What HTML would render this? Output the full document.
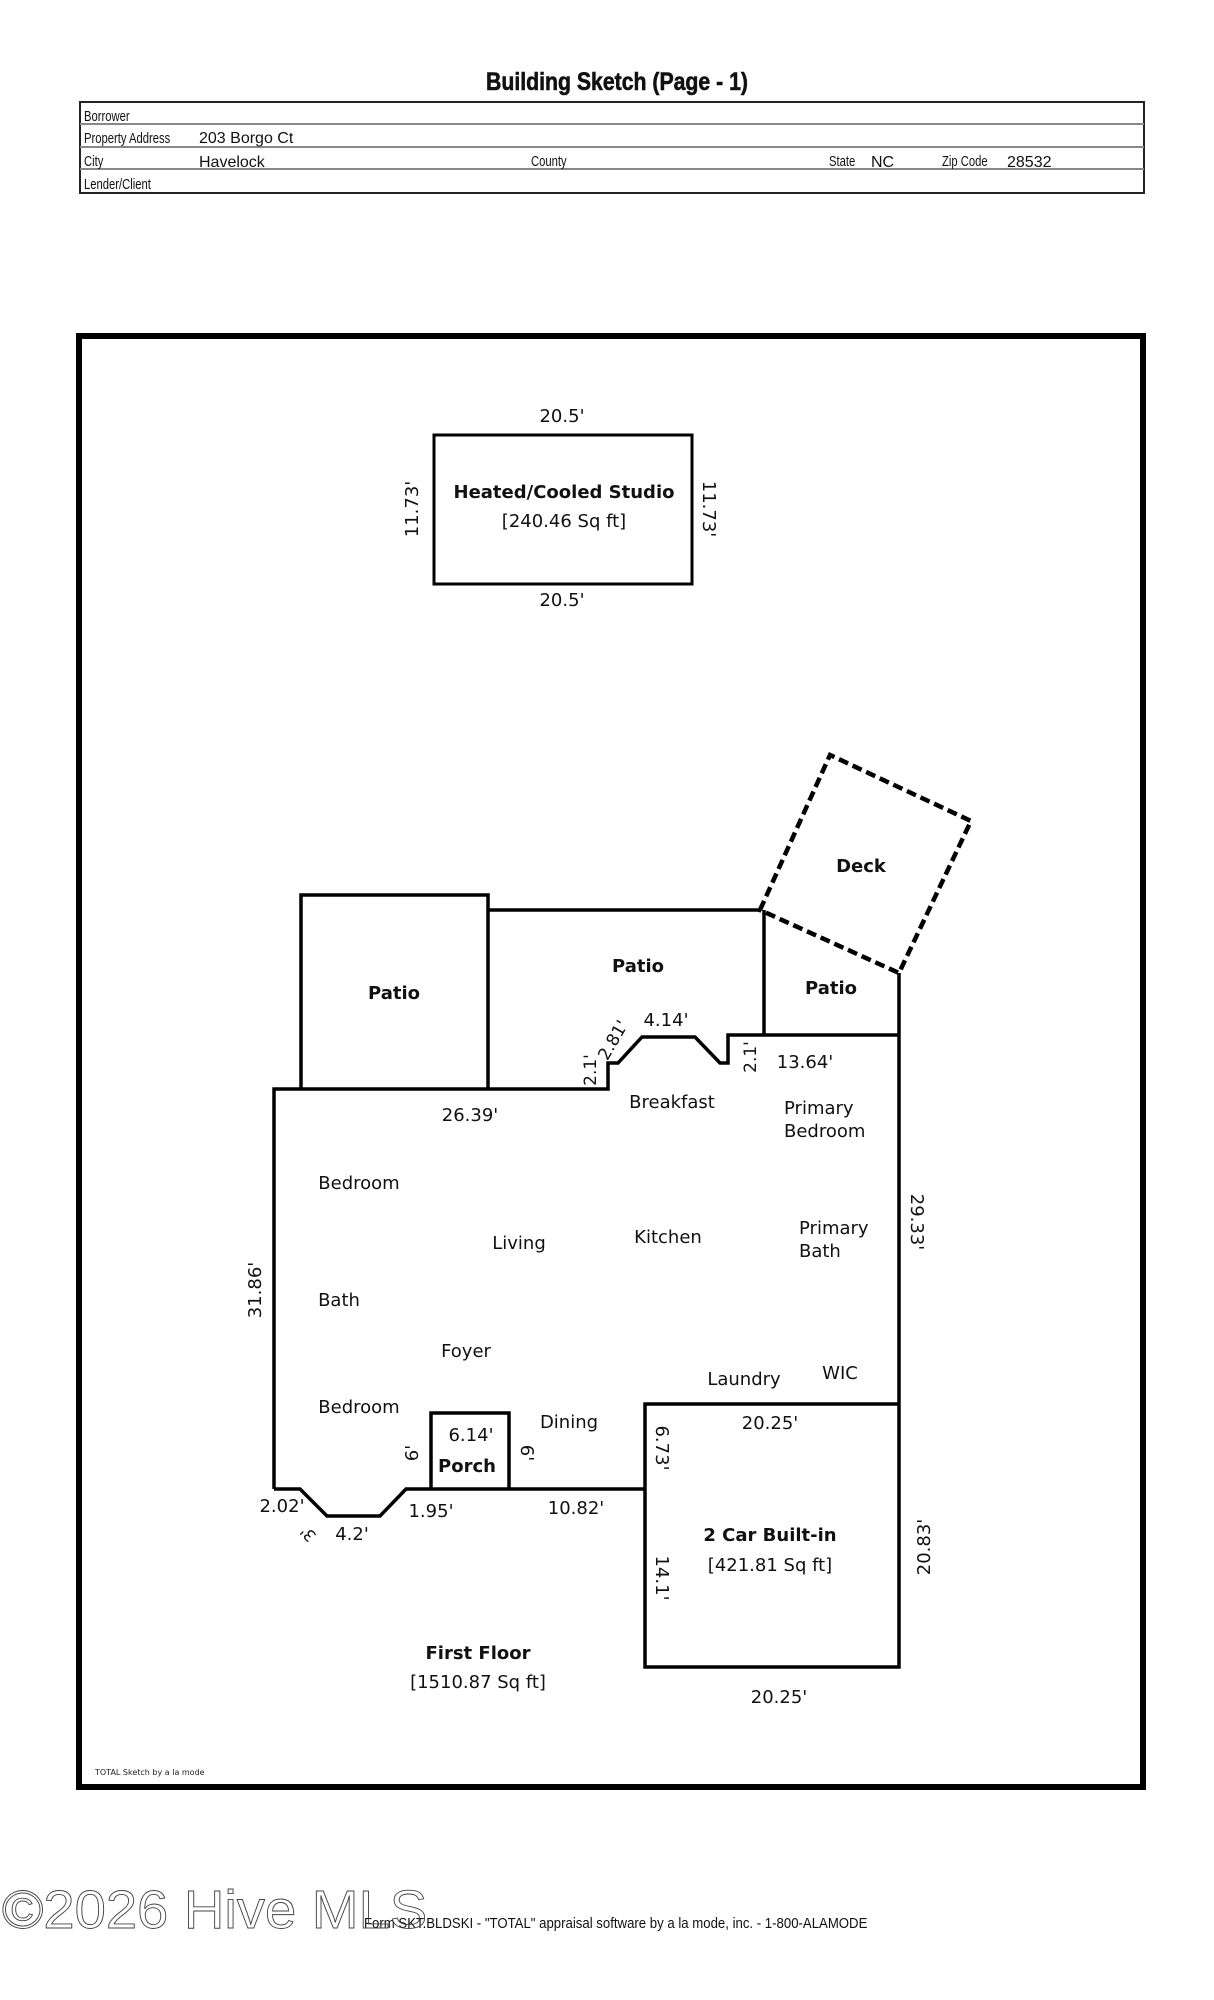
<!DOCTYPE html>
<html><head><meta charset="utf-8"><style>
html,body{margin:0;padding:0;background:#fff;}
svg{display:block;}
.p{font-family:"DejaVu Sans",sans-serif;font-size:18px;fill:#111;}
.b{font-weight:bold;}
.h{font-family:"Liberation Sans",sans-serif;fill:#111;}
</style></head><body>
<svg width="1214" height="2000" viewBox="0 0 1214 2000" xmlns="http://www.w3.org/2000/svg">
<text class="h b" x="0" y="0" font-size="25" text-anchor="middle" stroke="#111" stroke-width="0.6" transform="translate(617,90) scale(0.85,1)">Building Sketch (Page - 1)</text>
<g stroke="#222" fill="none">
<rect x="80" y="102" width="1064" height="91" stroke-width="2"/>
<line x1="80" y1="124" x2="1144" y2="124" stroke="#888" stroke-width="2"/>
<line x1="80" y1="147" x2="1144" y2="147" stroke="#888" stroke-width="2"/>
<line x1="80" y1="169" x2="1144" y2="169" stroke="#888" stroke-width="2"/>
</g>
<g class="h" font-size="15">
<text transform="translate(84,121) scale(0.75,1)">Borrower</text>
<text transform="translate(84,143) scale(0.75,1)">Property Address</text>
<text transform="translate(84,166) scale(0.75,1)">City</text>
<text transform="translate(531,166) scale(0.75,1)">County</text>
<text transform="translate(829,166) scale(0.75,1)">State</text>
<text transform="translate(942,166) scale(0.75,1)">Zip Code</text>
<text transform="translate(84,189) scale(0.75,1)">Lender/Client</text>
</g>
<g class="h" font-size="16">
<text x="199" y="143">203 Borgo Ct</text>
<text x="199" y="167">Havelock</text>
<text x="871" y="167">NC</text>
<text x="1007" y="167">28532</text>
</g>
<rect x="79" y="336" width="1064" height="1451" fill="none" stroke="#000" stroke-width="6"/>
<rect x="434" y="435" width="258" height="149" fill="none" stroke="#000" stroke-width="3"/>
<g class="p">
<text x="562" y="422" text-anchor="middle">20.5'</text>
<text x="562" y="606" text-anchor="middle">20.5'</text>
<text transform="translate(418,509) rotate(-90)" text-anchor="middle">11.73'</text>
<text transform="translate(703,509) rotate(90)" text-anchor="middle">11.73'</text>
<text class="b" x="564" y="498" text-anchor="middle">Heated/Cooled Studio</text>
<text x="564" y="527" text-anchor="middle">[240.46 Sq ft]</text>
</g>
<g fill="none" stroke="#000" stroke-width="3.5" stroke-linejoin="miter">
<polyline points="301,1089 301,895 488,895 488,1089"/>
<polyline points="488,910 760,910"/>
<polyline points="764,910 764,1035"/>
<polyline points="274,1489 274,1089 608,1089 608,1063 618,1063 642,1037 695,1037 720,1063 728,1063 728,1035 899,1035"/>
<polyline points="899,973 899,1667 645,1667 645,1404 899,1404"/>
<polyline points="274,1489 300,1489 327,1516 380,1516 406,1489 645,1489"/>
<polyline points="431,1489 431,1413 509,1413 509,1489"/>
<polygon points="760,910 830,755 971,821 899,973" stroke-dasharray="10,5" stroke-width="4.5"/>
</g>
<g class="p">
<text class="b" x="394" y="999" text-anchor="middle">Patio</text>
<text class="b" x="638" y="972" text-anchor="middle">Patio</text>
<text class="b" x="831" y="994" text-anchor="middle">Patio</text>
<text class="b" x="861" y="872" text-anchor="middle">Deck</text>
<text x="666" y="1026" text-anchor="middle">4.14'</text>
<text transform="translate(618,1043) rotate(-60)" text-anchor="middle" font-size="17">2.81'</text>
<text transform="translate(596,1070) rotate(-90)" text-anchor="middle" font-size="17">2.1'</text>
<text transform="translate(756,1057) rotate(-90)" text-anchor="middle" font-size="17">2.1'</text>
<text x="805" y="1068" text-anchor="middle">13.64'</text>
<text x="470" y="1121" text-anchor="middle">26.39'</text>
<text x="672" y="1108" text-anchor="middle">Breakfast</text>
<text x="784" y="1114">Primary</text>
<text x="784" y="1137">Bedroom</text>
<text x="359" y="1189" text-anchor="middle">Bedroom</text>
<text x="519" y="1249" text-anchor="middle">Living</text>
<text x="668" y="1243" text-anchor="middle">Kitchen</text>
<text x="799" y="1234">Primary</text>
<text x="799" y="1257">Bath</text>
<text x="339" y="1306" text-anchor="middle">Bath</text>
<text x="466" y="1357" text-anchor="middle">Foyer</text>
<text x="744" y="1385" text-anchor="middle">Laundry</text>
<text x="840" y="1379" text-anchor="middle">WIC</text>
<text transform="translate(261,1290) rotate(-90)" text-anchor="middle">31.86'</text>
<text transform="translate(911,1222) rotate(90)" text-anchor="middle">29.33'</text>
<text x="359" y="1413" text-anchor="middle">Bedroom</text>
<text x="569" y="1428" text-anchor="middle">Dining</text>
<text x="471" y="1441" text-anchor="middle">6.14'</text>
<text class="b" x="467" y="1472" text-anchor="middle">Porch</text>
<text transform="translate(418,1453) rotate(-90)" text-anchor="middle">6'</text>
<text transform="translate(521,1453) rotate(90)" text-anchor="middle">6'</text>
<text x="282" y="1512" text-anchor="middle">2.02'</text>
<text transform="translate(312,1530) rotate(-135)" text-anchor="middle" font-size="16">3'</text>
<text x="352" y="1540" text-anchor="middle">4.2'</text>
<text x="431" y="1517" text-anchor="middle">1.95'</text>
<text x="576" y="1514" text-anchor="middle">10.82'</text>
<text x="770" y="1429" text-anchor="middle">20.25'</text>
<text transform="translate(656,1448) rotate(90)" text-anchor="middle">6.73'</text>
<text transform="translate(656,1578) rotate(90)" text-anchor="middle">14.1'</text>
<text class="b" x="770" y="1541" text-anchor="middle">2 Car Built-in</text>
<text x="770" y="1571" text-anchor="middle">[421.81 Sq ft]</text>
<text transform="translate(930,1547) rotate(-90)" text-anchor="middle">20.83'</text>
<text class="b" x="478" y="1659" text-anchor="middle">First Floor</text>
<text x="478" y="1688" text-anchor="middle">[1510.87 Sq ft]</text>
<text x="779" y="1703" text-anchor="middle">20.25'</text>
</g>
<text x="95" y="1775" font-family="DejaVu Sans,sans-serif" font-size="8" fill="#222">TOTAL Sketch by a la mode</text>
<text class="h" font-size="15" transform="translate(364,1928) scale(0.88,1)">Form SKT.BLDSKI - "TOTAL" appraisal software by a la mode, inc. - 1-800-ALAMODE</text>
<text transform="translate(2,1928) scale(1.04,1)" font-family="Liberation Sans,sans-serif" font-size="54" fill="none" stroke="#444" stroke-width="0.9">©2026 Hive MLS</text>
</svg>
</body></html>
